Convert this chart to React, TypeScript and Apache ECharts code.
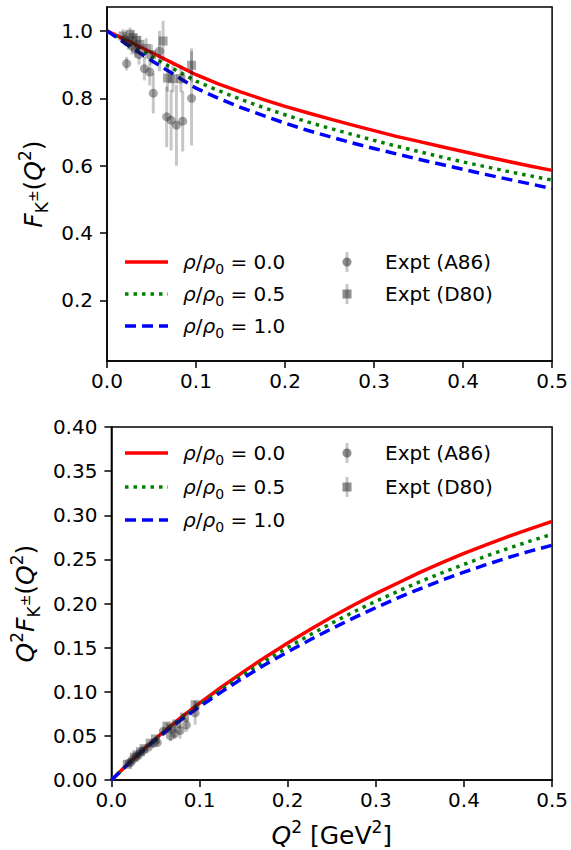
import React, { useEffect, useRef } from "react";
import * as echarts from "echarts";

// ---- data ----
const q2 = [0, 0.025, 0.05, 0.075, 0.1, 0.125, 0.15, 0.175, 0.2, 0.225, 0.25, 0.275, 0.3, 0.325, 0.35, 0.375, 0.4, 0.425, 0.45, 0.475, 0.5];
const fRho00 = [1.0, 0.968, 0.936, 0.903, 0.87, 0.843, 0.819, 0.797, 0.776, 0.757, 0.739, 0.721, 0.704, 0.687, 0.672, 0.657, 0.642, 0.627, 0.613, 0.599, 0.586];
const fRho05 = [1.0, 0.961, 0.924, 0.887, 0.851, 0.823, 0.797, 0.773, 0.751, 0.73, 0.711, 0.693, 0.675, 0.658, 0.642, 0.626, 0.611, 0.597, 0.583, 0.57, 0.557];
const fRho10 = [1.0, 0.955, 0.912, 0.871, 0.83, 0.8, 0.773, 0.749, 0.726, 0.705, 0.686, 0.668, 0.651, 0.635, 0.619, 0.604, 0.589, 0.574, 0.56, 0.546, 0.532];

const a86Q2 = [0.02, 0.024, 0.022, 0.028, 0.032, 0.036, 0.042, 0.048, 0.052, 0.059, 0.067, 0.072, 0.078, 0.085, 0.095];
const a86F = [0.975, 0.965, 0.903, 0.955, 0.945, 0.93, 0.888, 0.878, 0.815, 0.94, 0.745, 0.735, 0.72, 0.732, 0.8];
const a86Err = [0.02, 0.02, 0.02, 0.025, 0.025, 0.03, 0.035, 0.04, 0.06, 0.06, 0.09, 0.09, 0.12, 0.09, 0.14];

const d80Q2 = [0.018, 0.026, 0.029, 0.033, 0.037, 0.044, 0.05, 0.063, 0.068, 0.074, 0.083, 0.095];
const d80F = [0.985, 0.99, 0.98, 0.972, 0.96, 0.948, 0.93, 0.97, 0.86, 0.858, 0.858, 0.898];
const d80Err = [0.02, 0.02, 0.02, 0.02, 0.025, 0.03, 0.03, 0.06, 0.04, 0.04, 0.04, 0.05];

const topYTicks = [0.2, 0.4, 0.6, 0.8, 1.0];
const legendLabels = ["0.0", "0.5", "1.0"];
const exptLabels = ["Expt (A86)", "Expt (D80)"];

const FONT = "DejaVu Sans";
const colors = ["#ff0000", "#008000", "#0000ff"];
const dashes: any[] = ["solid", [3.5, 5], [11, 6]];

export default function App() {
  const ref = useRef<HTMLDivElement>(null);
  useEffect(() => {
    if (!ref.current) return;
    const chart = echarts.init(ref.current, null, { renderer: "svg" });

    const rich = {
      i: { fontFamily: FONT, fontSize: 20, fontStyle: "italic", lineHeight: 28, verticalAlign: "middle", color: "#000" },
      n: { fontFamily: FONT, fontSize: 20, lineHeight: 28, verticalAlign: "middle", color: "#000" },
      sub: { fontFamily: FONT, fontSize: 14, lineHeight: 14, verticalAlign: "bottom", color: "#000" },
      sup: { fontFamily: FONT, fontSize: 14, lineHeight: 14, verticalAlign: "top", color: "#000" },
      pm: { fontFamily: FONT, fontSize: 12, lineHeight: 28, verticalAlign: "middle", color: "#000" },
    };
    const richBig = {
      i: { ...rich.i, fontSize: 25, lineHeight: 34 },
      n: { ...rich.n, fontSize: 25, lineHeight: 34 },
      sub: { ...rich.sub, fontSize: 17, lineHeight: 17 },
      sup: { ...rich.sup, fontSize: 17, lineHeight: 17 },
      pm: { ...rich.pm, fontSize: 14, lineHeight: 34 },
    };

    const curves = [fRho00, fRho05, fRho10];
    const lineSeries: any[] = [];
    [0, 1].forEach((g) => {
      curves.forEach((arr, k) => {
        lineSeries.push({
          type: "line",
          xAxisIndex: g,
          yAxisIndex: g,
          data: q2.map((q, j) => [q, g === 0 ? arr[j] : q * arr[j]]),
          showSymbol: false,
          smooth: false,
          lineStyle: { color: colors[k], width: 3.5, type: dashes[k], cap: "butt", join: "round" },
          z: 2,
        });
      });
    });

    const exptSets = [
      { q: a86Q2, f: a86F, e: a86Err, symbol: "circle" },
      { q: d80Q2, f: d80F, e: d80Err, symbol: "rect" },
    ];
    const exptSeries: any[] = [];
    [0, 1].forEach((g) => {
      exptSets.forEach((s) => {
        const data = s.q.map((q, j) => (g === 0 ? [q, s.f[j], s.e[j]] : [q, q * s.f[j], q * s.e[j]]));
        exptSeries.push({
          type: "custom",
          xAxisIndex: g,
          yAxisIndex: g,
          data,
          encode: { x: 0, y: 1 },
          z: 3,
          renderItem: (params: any, api: any) => {
            const x = api.value(0);
            const y = api.value(1);
            const e = api.value(2);
            const p1 = api.coord([x, y - e]);
            const p2 = api.coord([x, y + e]);
            return {
              type: "line",
              shape: { x1: p1[0], y1: p1[1], x2: p2[0], y2: p2[1] },
              style: { stroke: "rgba(0,0,0,0.22)", lineWidth: 3 },
            };
          },
        });
        exptSeries.push({
          type: "scatter",
          xAxisIndex: g,
          yAxisIndex: g,
          data: data.map((d) => [d[0], d[1]]),
          symbol: s.symbol,
          symbolSize: 9,
          itemStyle: { color: "rgba(30,30,30,0.5)" },
          z: 4,
        });
      });
    });

    const xAxisBase = (g: number) => ({
      type: "value",
      gridIndex: g,
      min: 0,
      max: 0.5,
      interval: 0.1,
      axisLine: { show: true, onZero: false, lineStyle: { color: "#000", width: 1.5 } },
      axisTick: { show: true, length: 7, lineStyle: { color: "#000", width: 1.5 } },
      axisLabel: {
        fontFamily: FONT,
        fontSize: 20,
        color: "#000",
        margin: 10,
        formatter: (v: number) => v.toFixed(1),
      },
      splitLine: { show: false },
    });

    const legendGraphics: any[] = [];
    const rows = [
      [262, 294, 326],
      [453, 487, 520],
    ];
    rows.forEach((ys) => {
      ys.forEach((y, k) => {
        legendGraphics.push({
          type: "line",
          shape: { x1: 125, y1: y, x2: 168, y2: y },
          style: { stroke: colors[k], lineWidth: 3.5, lineDash: k === 0 ? null : dashes[k], lineCap: "butt" },
        });
        legendGraphics.push({
          type: "text",
          x: 183,
          y: y,
          style: {
            text: `{i|ρ}{n|/}{i|ρ}{sub|0}{n| = ${legendLabels[k]}}`,
            rich,
            align: "left",
            verticalAlign: "middle",
          },
        });
      });
      [0, 1].forEach((k) => {
        const y = ys[k];
        legendGraphics.push({
          type: "line",
          shape: { x1: 347, y1: y - 10, x2: 347, y2: y + 10 },
          style: { stroke: "rgba(0,0,0,0.22)", lineWidth: 3 },
        });
        if (k === 0) {
          legendGraphics.push({
            type: "circle",
            shape: { cx: 347, cy: y, r: 4.5 },
            style: { fill: "rgba(30,30,30,0.5)" },
          });
        } else {
          legendGraphics.push({
            type: "rect",
            shape: { x: 342.5, y: y - 4.5, width: 9, height: 9 },
            style: { fill: "rgba(30,30,30,0.5)" },
          });
        }
        legendGraphics.push({
          type: "text",
          x: 385,
          y: y,
          style: {
            text: exptLabels[k],
            fontFamily: FONT,
            fontSize: 20,
            fill: "#000",
            align: "left",
            verticalAlign: "middle",
          },
        });
      });
    });

    chart.setOption({
      animation: false,
      backgroundColor: "#fff",
      grid: [
        { left: 107, right: 17, top: 7, height: 354, show: true, borderColor: "#000", borderWidth: 1.5, backgroundColor: "transparent" },
        { left: 107, right: 17, top: 427, height: 353, show: true, borderColor: "#000", borderWidth: 1.5, backgroundColor: "transparent" },
      ],
      xAxis: [
        { ...xAxisBase(0) },
        {
          ...xAxisBase(1),
          name: "{i|Q}{sup|2}{n| [GeV}{sup|2}{n|]}",
          nameLocation: "middle",
          nameGap: 38,
          nameTextStyle: { rich: richBig },
        },
      ],
      yAxis: [
        {
          type: "value",
          gridIndex: 0,
          min: 0.02,
          max: 1.071,
          axisLine: { show: true, onZero: false, lineStyle: { color: "#000", width: 1.5 } },
          axisTick: { show: true, length: 7, customValues: topYTicks, lineStyle: { color: "#000", width: 1.5 } },
          axisLabel: {
            customValues: topYTicks,
            fontFamily: FONT,
            fontSize: 20,
            color: "#000",
            margin: 14,
            formatter: (v: number) => v.toFixed(1),
          },
          splitLine: { show: false },
          name: "{i|F}{sub|K}{pm|±}{n|(}{i|Q}{sup|2}{n|)}",
          nameLocation: "middle",
          nameRotate: 90,
          nameGap: 48,
          nameTextStyle: { rich: richBig },
        },
        {
          type: "value",
          gridIndex: 1,
          min: 0,
          max: 0.4,
          interval: 0.05,
          axisLine: { show: true, onZero: false, lineStyle: { color: "#000", width: 1.5 } },
          axisTick: { show: true, length: 7, lineStyle: { color: "#000", width: 1.5 } },
          axisLabel: {
            fontFamily: FONT,
            fontSize: 20,
            color: "#000",
            margin: 14,
            formatter: (v: number) => v.toFixed(2),
          },
          splitLine: { show: false },
          name: "{i|Q}{sup|2}{i|F}{sub|K}{pm|±}{n|(}{i|Q}{sup|2}{n|)}",
          nameLocation: "middle",
          nameRotate: 90,
          nameGap: 53,
          nameTextStyle: { rich: richBig },
        },
      ],
      series: [...lineSeries, ...exptSeries],
      graphic: legendGraphics,
    });

    return () => chart.dispose();
  }, []);

  return (
    <div
      ref={ref}
      style={{ position: "absolute", left: 0, top: 0, width: 571, height: 850, background: "#fff" }}
    />
  );
}
